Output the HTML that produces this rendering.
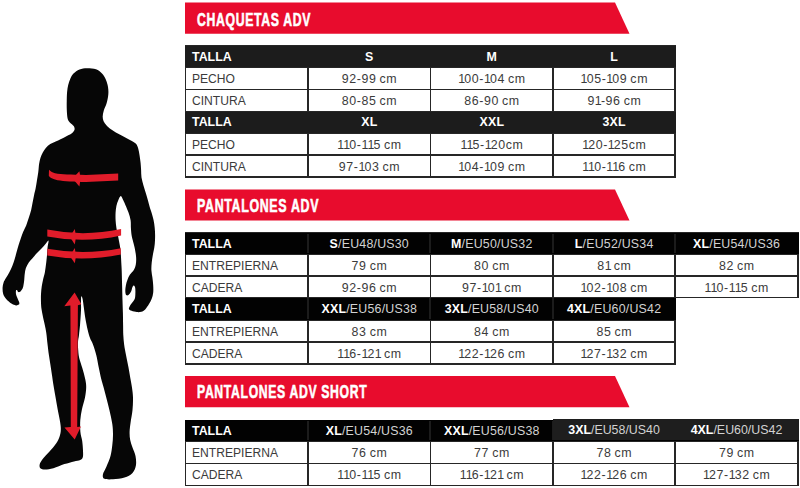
<!DOCTYPE html>
<html><head><meta charset="utf-8"><style>
html,body{margin:0;padding:0;background:#fff;}
body{width:800px;height:488px;position:relative;overflow:hidden;font-family:"Liberation Sans",Arial,sans-serif;}
b{font-weight:bold;}
i{font-style:normal;letter-spacing:-0.85px;margin-left:-0.1px;}
</style></head><body>
<svg style="position:absolute;left:0;top:0" width="800" height="488"><polygon points="185,2.5 615,2.5 629.5,33.75 185,33.75" fill="#e80c2d"/></svg>
<div style="position:absolute;left:197.2px;top:2.5px;height:31.25px;display:flex;align-items:center;color:#fff;font-weight:bold;font-size:18.8px;transform:scaleX(0.652636);transform-origin:0 50%;white-space:nowrap;-webkit-text-stroke:0.6px #fff;letter-spacing:1.0px;padding-top:1.7px">CHAQUETAS ADV</div>
<svg style="position:absolute;left:0;top:0" width="800" height="488"><polygon points="185,189.5 615,189.5 629.5,220.6 185,220.6" fill="#e80c2d"/></svg>
<div style="position:absolute;left:197.2px;top:189.5px;height:31.099999999999994px;display:flex;align-items:center;color:#fff;font-weight:bold;font-size:18.8px;transform:scaleX(0.660652);transform-origin:0 50%;white-space:nowrap;-webkit-text-stroke:0.6px #fff;letter-spacing:1.0px;padding-top:1.1px">PANTALONES ADV</div>
<svg style="position:absolute;left:0;top:0" width="800" height="488"><polygon points="185,376 615,376 629.5,407.25 185,407.25" fill="#e80c2d"/></svg>
<div style="position:absolute;left:196.79999999999998px;top:376px;height:31.25px;display:flex;align-items:center;color:#fff;font-weight:bold;font-size:18.8px;transform:scaleX(0.650632);transform-origin:0 50%;white-space:nowrap;-webkit-text-stroke:0.6px #fff;letter-spacing:1.0px;padding-top:0.5px">PANTALONES ADV SHORT</div>
<div style="position:absolute;left:184.60px;top:45.00px;width:491.40px;height:132.60px;background:#262626;"></div>
<div style="position:absolute;left:184.60px;top:45.80px;width:491.40px;height:21.10px;background:#1c1c1c;"></div>
<div style="position:absolute;left:185.40px;top:46.10px;width:122.60px;height:21.10px;display:flex;align-items:center;justify-content:flex-start;padding-left:6.6px;box-sizing:border-box;color:#fff;font-size:12.4px;font-weight:bold;white-space:nowrap;letter-spacing:0px;word-spacing:0px"><span>TALLA</span></div>
<div style="position:absolute;left:308.00px;top:46.10px;width:122.50px;height:21.10px;display:flex;align-items:center;justify-content:center;padding-left:0.2px;box-sizing:border-box;color:#fff;font-size:12.4px;font-weight:normal;white-space:nowrap;letter-spacing:0.2px;word-spacing:0px"><span><b>S</b></span></div>
<div style="position:absolute;left:430.50px;top:46.10px;width:122.50px;height:21.10px;display:flex;align-items:center;justify-content:center;padding-left:0.2px;box-sizing:border-box;color:#fff;font-size:12.4px;font-weight:normal;white-space:nowrap;letter-spacing:0.2px;word-spacing:0px"><span><b>M</b></span></div>
<div style="position:absolute;left:553.00px;top:46.10px;width:122.20px;height:21.10px;display:flex;align-items:center;justify-content:center;padding-left:0.2px;box-sizing:border-box;color:#fff;font-size:12.4px;font-weight:normal;white-space:nowrap;letter-spacing:0.2px;word-spacing:0px"><span><b>L</b></span></div>
<div style="position:absolute;left:186.20px;top:67.70px;width:121.00px;height:21.00px;background:#fff;"></div>
<div style="position:absolute;left:185.40px;top:67.80px;width:122.60px;height:22.60px;display:flex;align-items:center;justify-content:flex-start;padding-left:6.6px;box-sizing:border-box;color:#3b3b3b;font-size:12.1px;font-weight:normal;white-space:nowrap;letter-spacing:0px;word-spacing:0px"><span>PECHO</span></div>
<div style="position:absolute;left:308.80px;top:67.70px;width:120.90px;height:21.00px;background:#fff;"></div>
<div style="position:absolute;left:308.00px;top:67.80px;width:122.50px;height:22.60px;display:flex;align-items:center;justify-content:center;padding-left:0.6px;box-sizing:border-box;color:#3b3b3b;font-size:12.4px;font-weight:normal;white-space:nowrap;letter-spacing:0.6px;word-spacing:-1.0px"><span>92-99 cm</span></div>
<div style="position:absolute;left:431.30px;top:67.70px;width:120.90px;height:21.00px;background:#fff;"></div>
<div style="position:absolute;left:430.50px;top:67.80px;width:122.50px;height:22.60px;display:flex;align-items:center;justify-content:center;padding-left:0.6px;box-sizing:border-box;color:#3b3b3b;font-size:12.4px;font-weight:normal;white-space:nowrap;letter-spacing:0.6px;word-spacing:-1.0px"><span><i>1</i>00-<i>1</i>04 cm</span></div>
<div style="position:absolute;left:553.80px;top:67.70px;width:120.60px;height:21.00px;background:#fff;"></div>
<div style="position:absolute;left:553.00px;top:67.80px;width:122.20px;height:22.60px;display:flex;align-items:center;justify-content:center;padding-left:0.6px;box-sizing:border-box;color:#3b3b3b;font-size:12.4px;font-weight:normal;white-space:nowrap;letter-spacing:0.6px;word-spacing:-1.0px"><span><i>1</i>05-<i>1</i>09 cm</span></div>
<div style="position:absolute;left:186.20px;top:90.30px;width:121.00px;height:20.50px;background:#fff;"></div>
<div style="position:absolute;left:185.40px;top:90.40px;width:122.60px;height:22.10px;display:flex;align-items:center;justify-content:flex-start;padding-left:6.6px;box-sizing:border-box;color:#3b3b3b;font-size:12.1px;font-weight:normal;white-space:nowrap;letter-spacing:0px;word-spacing:0px"><span>CINTURA</span></div>
<div style="position:absolute;left:308.80px;top:90.30px;width:120.90px;height:20.50px;background:#fff;"></div>
<div style="position:absolute;left:308.00px;top:90.40px;width:122.50px;height:22.10px;display:flex;align-items:center;justify-content:center;padding-left:0.6px;box-sizing:border-box;color:#3b3b3b;font-size:12.4px;font-weight:normal;white-space:nowrap;letter-spacing:0.6px;word-spacing:-1.0px"><span>80-85 cm</span></div>
<div style="position:absolute;left:431.30px;top:90.30px;width:120.90px;height:20.50px;background:#fff;"></div>
<div style="position:absolute;left:430.50px;top:90.40px;width:122.50px;height:22.10px;display:flex;align-items:center;justify-content:center;padding-left:0.6px;box-sizing:border-box;color:#3b3b3b;font-size:12.4px;font-weight:normal;white-space:nowrap;letter-spacing:0.6px;word-spacing:-1.0px"><span>86-90 cm</span></div>
<div style="position:absolute;left:553.80px;top:90.30px;width:120.60px;height:20.50px;background:#fff;"></div>
<div style="position:absolute;left:553.00px;top:90.40px;width:122.20px;height:22.10px;display:flex;align-items:center;justify-content:center;padding-left:0.6px;box-sizing:border-box;color:#3b3b3b;font-size:12.4px;font-weight:normal;white-space:nowrap;letter-spacing:0.6px;word-spacing:-1.0px"><span>9<i>1</i>-96 cm</span></div>
<div style="position:absolute;left:184.60px;top:111.60px;width:491.40px;height:21.10px;background:#1c1c1c;"></div>
<div style="position:absolute;left:185.40px;top:111.90px;width:122.60px;height:21.10px;display:flex;align-items:center;justify-content:flex-start;padding-left:6.6px;box-sizing:border-box;color:#fff;font-size:12.4px;font-weight:bold;white-space:nowrap;letter-spacing:0px;word-spacing:0px"><span>TALLA</span></div>
<div style="position:absolute;left:308.00px;top:111.90px;width:122.50px;height:21.10px;display:flex;align-items:center;justify-content:center;padding-left:0.2px;box-sizing:border-box;color:#fff;font-size:12.4px;font-weight:normal;white-space:nowrap;letter-spacing:0.2px;word-spacing:0px"><span><b>XL</b></span></div>
<div style="position:absolute;left:430.50px;top:111.90px;width:122.50px;height:21.10px;display:flex;align-items:center;justify-content:center;padding-left:0.2px;box-sizing:border-box;color:#fff;font-size:12.4px;font-weight:normal;white-space:nowrap;letter-spacing:0.2px;word-spacing:0px"><span><b>XXL</b></span></div>
<div style="position:absolute;left:553.00px;top:111.90px;width:122.20px;height:21.10px;display:flex;align-items:center;justify-content:center;padding-left:0.2px;box-sizing:border-box;color:#fff;font-size:12.4px;font-weight:normal;white-space:nowrap;letter-spacing:0.2px;word-spacing:0px"><span><b>3XL</b></span></div>
<div style="position:absolute;left:186.20px;top:133.50px;width:121.00px;height:20.60px;background:#fff;"></div>
<div style="position:absolute;left:185.40px;top:133.60px;width:122.60px;height:22.20px;display:flex;align-items:center;justify-content:flex-start;padding-left:6.6px;box-sizing:border-box;color:#3b3b3b;font-size:12.1px;font-weight:normal;white-space:nowrap;letter-spacing:0px;word-spacing:0px"><span>PECHO</span></div>
<div style="position:absolute;left:308.80px;top:133.50px;width:120.90px;height:20.60px;background:#fff;"></div>
<div style="position:absolute;left:308.00px;top:133.60px;width:122.50px;height:22.20px;display:flex;align-items:center;justify-content:center;padding-left:0.6px;box-sizing:border-box;color:#3b3b3b;font-size:12.4px;font-weight:normal;white-space:nowrap;letter-spacing:0.6px;word-spacing:-1.0px"><span><i>1</i><i>1</i>0-<i>1</i><i>1</i>5 cm</span></div>
<div style="position:absolute;left:431.30px;top:133.50px;width:120.90px;height:20.60px;background:#fff;"></div>
<div style="position:absolute;left:430.50px;top:133.60px;width:122.50px;height:22.20px;display:flex;align-items:center;justify-content:center;padding-left:0.6px;box-sizing:border-box;color:#3b3b3b;font-size:12.4px;font-weight:normal;white-space:nowrap;letter-spacing:0.6px;word-spacing:-1.0px"><span><i>1</i><i>1</i>5-<i>1</i>20cm</span></div>
<div style="position:absolute;left:553.80px;top:133.50px;width:120.60px;height:20.60px;background:#fff;"></div>
<div style="position:absolute;left:553.00px;top:133.60px;width:122.20px;height:22.20px;display:flex;align-items:center;justify-content:center;padding-left:0.6px;box-sizing:border-box;color:#3b3b3b;font-size:12.4px;font-weight:normal;white-space:nowrap;letter-spacing:0.6px;word-spacing:-1.0px"><span><i>1</i>20-<i>1</i>25cm</span></div>
<div style="position:absolute;left:186.20px;top:155.70px;width:121.00px;height:20.30px;background:#fff;"></div>
<div style="position:absolute;left:185.40px;top:155.80px;width:122.60px;height:21.90px;display:flex;align-items:center;justify-content:flex-start;padding-left:6.6px;box-sizing:border-box;color:#3b3b3b;font-size:12.1px;font-weight:normal;white-space:nowrap;letter-spacing:0px;word-spacing:0px"><span>CINTURA</span></div>
<div style="position:absolute;left:308.80px;top:155.70px;width:120.90px;height:20.30px;background:#fff;"></div>
<div style="position:absolute;left:308.00px;top:155.80px;width:122.50px;height:21.90px;display:flex;align-items:center;justify-content:center;padding-left:0.6px;box-sizing:border-box;color:#3b3b3b;font-size:12.4px;font-weight:normal;white-space:nowrap;letter-spacing:0.6px;word-spacing:-1.0px"><span>97-<i>1</i>03 cm</span></div>
<div style="position:absolute;left:431.30px;top:155.70px;width:120.90px;height:20.30px;background:#fff;"></div>
<div style="position:absolute;left:430.50px;top:155.80px;width:122.50px;height:21.90px;display:flex;align-items:center;justify-content:center;padding-left:0.6px;box-sizing:border-box;color:#3b3b3b;font-size:12.4px;font-weight:normal;white-space:nowrap;letter-spacing:0.6px;word-spacing:-1.0px"><span><i>1</i>04-<i>1</i>09 cm</span></div>
<div style="position:absolute;left:553.80px;top:155.70px;width:120.60px;height:20.30px;background:#fff;"></div>
<div style="position:absolute;left:553.00px;top:155.80px;width:122.20px;height:21.90px;display:flex;align-items:center;justify-content:center;padding-left:0.6px;box-sizing:border-box;color:#3b3b3b;font-size:12.4px;font-weight:normal;white-space:nowrap;letter-spacing:0.6px;word-spacing:-1.0px"><span><i>1</i><i>1</i>0-<i>1</i><i>1</i>6 cm</span></div>
<div style="position:absolute;left:184.60px;top:232.10px;width:614.10px;height:66.30px;background:#262626;"></div>
<div style="position:absolute;left:184.60px;top:232.90px;width:614.10px;height:21.20px;background:#020202;"></div>
<div style="position:absolute;left:307.00px;top:233.70px;width:2.00px;height:19.60px;background:#1c1c1c;"></div>
<div style="position:absolute;left:429.40px;top:233.70px;width:2.00px;height:19.60px;background:#1c1c1c;"></div>
<div style="position:absolute;left:552.00px;top:233.70px;width:2.00px;height:19.60px;background:#1c1c1c;"></div>
<div style="position:absolute;left:674.10px;top:233.70px;width:2.00px;height:19.60px;background:#1c1c1c;"></div>
<div style="position:absolute;left:185.40px;top:233.20px;width:122.60px;height:21.20px;display:flex;align-items:center;justify-content:flex-start;padding-left:6.6px;box-sizing:border-box;color:#fff;font-size:12.4px;font-weight:bold;white-space:nowrap;letter-spacing:0px;word-spacing:0px"><span>TALLA</span></div>
<div style="position:absolute;left:308.00px;top:233.20px;width:122.40px;height:21.20px;display:flex;align-items:center;justify-content:center;padding-left:0.2px;box-sizing:border-box;color:#fff;font-size:12.4px;font-weight:normal;white-space:nowrap;letter-spacing:0.2px;word-spacing:0px"><span><b>S</b><span style="color:#d2d2d2">/EU48/US30</span></span></div>
<div style="position:absolute;left:430.40px;top:233.20px;width:122.60px;height:21.20px;display:flex;align-items:center;justify-content:center;padding-left:0.2px;box-sizing:border-box;color:#fff;font-size:12.4px;font-weight:normal;white-space:nowrap;letter-spacing:0.2px;word-spacing:0px"><span><b>M</b><span style="color:#d2d2d2">/EU50/US32</span></span></div>
<div style="position:absolute;left:553.00px;top:233.20px;width:122.10px;height:21.20px;display:flex;align-items:center;justify-content:center;padding-left:0.2px;box-sizing:border-box;color:#fff;font-size:12.4px;font-weight:normal;white-space:nowrap;letter-spacing:0.2px;word-spacing:0px"><span><b>L</b><span style="color:#d2d2d2">/EU52/US34</span></span></div>
<div style="position:absolute;left:675.10px;top:233.20px;width:122.80px;height:21.20px;display:flex;align-items:center;justify-content:center;padding-left:0.2px;box-sizing:border-box;color:#fff;font-size:12.4px;font-weight:normal;white-space:nowrap;letter-spacing:0.2px;word-spacing:0px"><span><b>XL</b><span style="color:#d2d2d2">/EU54/US36</span></span></div>
<div style="position:absolute;left:186.20px;top:254.90px;width:121.00px;height:20.10px;background:#fff;"></div>
<div style="position:absolute;left:185.40px;top:255.00px;width:122.60px;height:21.70px;display:flex;align-items:center;justify-content:flex-start;padding-left:6.6px;box-sizing:border-box;color:#3b3b3b;font-size:12.1px;font-weight:normal;white-space:nowrap;letter-spacing:0px;word-spacing:0px"><span>ENTREPIERNA</span></div>
<div style="position:absolute;left:308.80px;top:254.90px;width:120.80px;height:20.10px;background:#fff;"></div>
<div style="position:absolute;left:308.00px;top:255.00px;width:122.40px;height:21.70px;display:flex;align-items:center;justify-content:center;padding-left:0.6px;box-sizing:border-box;color:#3b3b3b;font-size:12.4px;font-weight:normal;white-space:nowrap;letter-spacing:0.6px;word-spacing:-1.0px"><span>79 cm</span></div>
<div style="position:absolute;left:431.20px;top:254.90px;width:121.00px;height:20.10px;background:#fff;"></div>
<div style="position:absolute;left:430.40px;top:255.00px;width:122.60px;height:21.70px;display:flex;align-items:center;justify-content:center;padding-left:0.6px;box-sizing:border-box;color:#3b3b3b;font-size:12.4px;font-weight:normal;white-space:nowrap;letter-spacing:0.6px;word-spacing:-1.0px"><span>80 cm</span></div>
<div style="position:absolute;left:553.80px;top:254.90px;width:120.50px;height:20.10px;background:#fff;"></div>
<div style="position:absolute;left:553.00px;top:255.00px;width:122.10px;height:21.70px;display:flex;align-items:center;justify-content:center;padding-left:0.6px;box-sizing:border-box;color:#3b3b3b;font-size:12.4px;font-weight:normal;white-space:nowrap;letter-spacing:0.6px;word-spacing:-1.0px"><span>8<i>1</i> cm</span></div>
<div style="position:absolute;left:675.90px;top:254.90px;width:121.20px;height:20.10px;background:#fff;"></div>
<div style="position:absolute;left:675.10px;top:255.00px;width:122.80px;height:21.70px;display:flex;align-items:center;justify-content:center;padding-left:0.6px;box-sizing:border-box;color:#3b3b3b;font-size:12.4px;font-weight:normal;white-space:nowrap;letter-spacing:0.6px;word-spacing:-1.0px"><span>82 cm</span></div>
<div style="position:absolute;left:186.20px;top:276.60px;width:121.00px;height:20.20px;background:#fff;"></div>
<div style="position:absolute;left:185.40px;top:276.70px;width:122.60px;height:21.80px;display:flex;align-items:center;justify-content:flex-start;padding-left:6.6px;box-sizing:border-box;color:#3b3b3b;font-size:12.1px;font-weight:normal;white-space:nowrap;letter-spacing:0px;word-spacing:0px"><span>CADERA</span></div>
<div style="position:absolute;left:308.80px;top:276.60px;width:120.80px;height:20.20px;background:#fff;"></div>
<div style="position:absolute;left:308.00px;top:276.70px;width:122.40px;height:21.80px;display:flex;align-items:center;justify-content:center;padding-left:0.6px;box-sizing:border-box;color:#3b3b3b;font-size:12.4px;font-weight:normal;white-space:nowrap;letter-spacing:0.6px;word-spacing:-1.0px"><span>92-96 cm</span></div>
<div style="position:absolute;left:431.20px;top:276.60px;width:121.00px;height:20.20px;background:#fff;"></div>
<div style="position:absolute;left:430.40px;top:276.70px;width:122.60px;height:21.80px;display:flex;align-items:center;justify-content:center;padding-left:0.6px;box-sizing:border-box;color:#3b3b3b;font-size:12.4px;font-weight:normal;white-space:nowrap;letter-spacing:0.6px;word-spacing:-1.0px"><span>97-<i>1</i>0<i>1</i> cm</span></div>
<div style="position:absolute;left:553.80px;top:276.60px;width:120.50px;height:20.20px;background:#fff;"></div>
<div style="position:absolute;left:553.00px;top:276.70px;width:122.10px;height:21.80px;display:flex;align-items:center;justify-content:center;padding-left:0.6px;box-sizing:border-box;color:#3b3b3b;font-size:12.4px;font-weight:normal;white-space:nowrap;letter-spacing:0.6px;word-spacing:-1.0px"><span><i>1</i>02-<i>1</i>08 cm</span></div>
<div style="position:absolute;left:675.90px;top:276.60px;width:121.20px;height:20.20px;background:#fff;"></div>
<div style="position:absolute;left:675.10px;top:276.70px;width:122.80px;height:21.80px;display:flex;align-items:center;justify-content:center;padding-left:0.6px;box-sizing:border-box;color:#3b3b3b;font-size:12.4px;font-weight:normal;white-space:nowrap;letter-spacing:0.6px;word-spacing:-1.0px"><span><i>1</i><i>1</i>0-<i>1</i><i>1</i>5 cm</span></div>
<div style="position:absolute;left:184.60px;top:296.80px;width:491.30px;height:68.10px;background:#262626;"></div>
<div style="position:absolute;left:184.60px;top:297.60px;width:491.30px;height:22.30px;background:#020202;"></div>
<div style="position:absolute;left:307.00px;top:298.40px;width:2.00px;height:20.70px;background:#1c1c1c;"></div>
<div style="position:absolute;left:429.40px;top:298.40px;width:2.00px;height:20.70px;background:#1c1c1c;"></div>
<div style="position:absolute;left:552.00px;top:298.40px;width:2.00px;height:20.70px;background:#1c1c1c;"></div>
<div style="position:absolute;left:185.40px;top:297.90px;width:122.60px;height:22.30px;display:flex;align-items:center;justify-content:flex-start;padding-left:6.6px;box-sizing:border-box;color:#fff;font-size:12.4px;font-weight:bold;white-space:nowrap;letter-spacing:0px;word-spacing:0px"><span>TALLA</span></div>
<div style="position:absolute;left:308.00px;top:297.90px;width:122.40px;height:22.30px;display:flex;align-items:center;justify-content:center;padding-left:0.2px;box-sizing:border-box;color:#fff;font-size:12.4px;font-weight:normal;white-space:nowrap;letter-spacing:0.2px;word-spacing:0px"><span><b>XXL</b><span style="color:#d2d2d2">/EU56/US38</span></span></div>
<div style="position:absolute;left:430.40px;top:297.90px;width:122.60px;height:22.30px;display:flex;align-items:center;justify-content:center;padding-left:0.2px;box-sizing:border-box;color:#fff;font-size:12.4px;font-weight:normal;white-space:nowrap;letter-spacing:0.2px;word-spacing:0px"><span><b>3XL</b><span style="color:#d2d2d2">/EU58/US40</span></span></div>
<div style="position:absolute;left:553.00px;top:297.90px;width:122.10px;height:22.30px;display:flex;align-items:center;justify-content:center;padding-left:0.2px;box-sizing:border-box;color:#fff;font-size:12.4px;font-weight:normal;white-space:nowrap;letter-spacing:0.2px;word-spacing:0px"><span><b>4XL</b><span style="color:#d2d2d2">/EU60/US42</span></span></div>
<div style="position:absolute;left:186.20px;top:320.70px;width:121.00px;height:20.50px;background:#fff;"></div>
<div style="position:absolute;left:185.40px;top:320.80px;width:122.60px;height:22.10px;display:flex;align-items:center;justify-content:flex-start;padding-left:6.6px;box-sizing:border-box;color:#3b3b3b;font-size:12.1px;font-weight:normal;white-space:nowrap;letter-spacing:0px;word-spacing:0px"><span>ENTREPIERNA</span></div>
<div style="position:absolute;left:308.80px;top:320.70px;width:120.80px;height:20.50px;background:#fff;"></div>
<div style="position:absolute;left:308.00px;top:320.80px;width:122.40px;height:22.10px;display:flex;align-items:center;justify-content:center;padding-left:0.6px;box-sizing:border-box;color:#3b3b3b;font-size:12.4px;font-weight:normal;white-space:nowrap;letter-spacing:0.6px;word-spacing:-1.0px"><span>83 cm</span></div>
<div style="position:absolute;left:431.20px;top:320.70px;width:121.00px;height:20.50px;background:#fff;"></div>
<div style="position:absolute;left:430.40px;top:320.80px;width:122.60px;height:22.10px;display:flex;align-items:center;justify-content:center;padding-left:0.6px;box-sizing:border-box;color:#3b3b3b;font-size:12.4px;font-weight:normal;white-space:nowrap;letter-spacing:0.6px;word-spacing:-1.0px"><span>84 cm</span></div>
<div style="position:absolute;left:553.80px;top:320.70px;width:120.50px;height:20.50px;background:#fff;"></div>
<div style="position:absolute;left:553.00px;top:320.80px;width:122.10px;height:22.10px;display:flex;align-items:center;justify-content:center;padding-left:0.6px;box-sizing:border-box;color:#3b3b3b;font-size:12.4px;font-weight:normal;white-space:nowrap;letter-spacing:0.6px;word-spacing:-1.0px"><span>85 cm</span></div>
<div style="position:absolute;left:186.20px;top:342.80px;width:121.00px;height:20.50px;background:#fff;"></div>
<div style="position:absolute;left:185.40px;top:342.90px;width:122.60px;height:22.10px;display:flex;align-items:center;justify-content:flex-start;padding-left:6.6px;box-sizing:border-box;color:#3b3b3b;font-size:12.1px;font-weight:normal;white-space:nowrap;letter-spacing:0px;word-spacing:0px"><span>CADERA</span></div>
<div style="position:absolute;left:308.80px;top:342.80px;width:120.80px;height:20.50px;background:#fff;"></div>
<div style="position:absolute;left:308.00px;top:342.90px;width:122.40px;height:22.10px;display:flex;align-items:center;justify-content:center;padding-left:0.6px;box-sizing:border-box;color:#3b3b3b;font-size:12.4px;font-weight:normal;white-space:nowrap;letter-spacing:0.6px;word-spacing:-1.0px"><span><i>1</i><i>1</i>6-<i>1</i>2<i>1</i> cm</span></div>
<div style="position:absolute;left:431.20px;top:342.80px;width:121.00px;height:20.50px;background:#fff;"></div>
<div style="position:absolute;left:430.40px;top:342.90px;width:122.60px;height:22.10px;display:flex;align-items:center;justify-content:center;padding-left:0.6px;box-sizing:border-box;color:#3b3b3b;font-size:12.4px;font-weight:normal;white-space:nowrap;letter-spacing:0.6px;word-spacing:-1.0px"><span><i>1</i>22-<i>1</i>26 cm</span></div>
<div style="position:absolute;left:553.80px;top:342.80px;width:120.50px;height:20.50px;background:#fff;"></div>
<div style="position:absolute;left:553.00px;top:342.90px;width:122.10px;height:22.10px;display:flex;align-items:center;justify-content:center;padding-left:0.6px;box-sizing:border-box;color:#3b3b3b;font-size:12.4px;font-weight:normal;white-space:nowrap;letter-spacing:0.6px;word-spacing:-1.0px"><span><i>1</i>27-<i>1</i>32 cm</span></div>
<div style="position:absolute;left:184.60px;top:419.50px;width:614.10px;height:66.70px;background:#262626;"></div>
<div style="position:absolute;left:184.60px;top:420.30px;width:614.10px;height:20.90px;background:#020202;"></div>
<div style="position:absolute;left:307.00px;top:421.10px;width:2.00px;height:19.30px;background:#1c1c1c;"></div>
<div style="position:absolute;left:429.40px;top:421.10px;width:2.00px;height:19.30px;background:#1c1c1c;"></div>
<div style="position:absolute;left:552.00px;top:421.10px;width:2.00px;height:19.30px;background:#1c1c1c;"></div>
<div style="position:absolute;left:674.10px;top:421.10px;width:2.00px;height:19.30px;background:#1c1c1c;"></div>
<div style="position:absolute;left:185.40px;top:420.60px;width:122.60px;height:20.90px;display:flex;align-items:center;justify-content:flex-start;padding-left:6.6px;box-sizing:border-box;color:#fff;font-size:12.4px;font-weight:bold;white-space:nowrap;letter-spacing:0px;word-spacing:0px"><span>TALLA</span></div>
<div style="position:absolute;left:308.00px;top:420.60px;width:122.40px;height:20.90px;display:flex;align-items:center;justify-content:center;padding-left:0.2px;box-sizing:border-box;color:#fff;font-size:12.4px;font-weight:normal;white-space:nowrap;letter-spacing:0.2px;word-spacing:0px"><span><b>XL</b><span style="color:#d2d2d2">/EU54/US36</span></span></div>
<div style="position:absolute;left:430.40px;top:420.60px;width:122.60px;height:20.90px;display:flex;align-items:center;justify-content:center;padding-left:0.2px;box-sizing:border-box;color:#fff;font-size:12.4px;font-weight:normal;white-space:nowrap;letter-spacing:0.2px;word-spacing:0px"><span><b>XXL</b><span style="color:#d2d2d2">/EU56/US38</span></span></div>
<div style="position:absolute;left:553.00px;top:420.60px;width:122.10px;height:20.90px;display:flex;align-items:center;justify-content:center;padding-left:0.2px;box-sizing:border-box;color:#fff;font-size:12.4px;font-weight:normal;white-space:nowrap;letter-spacing:0.2px;word-spacing:0px"><span><b>3XL</b><span style="color:#d2d2d2">/EU58/US40</span></span></div>
<div style="position:absolute;left:675.10px;top:420.60px;width:122.80px;height:20.90px;display:flex;align-items:center;justify-content:center;padding-left:0.2px;box-sizing:border-box;color:#fff;font-size:12.4px;font-weight:normal;white-space:nowrap;letter-spacing:0.2px;word-spacing:0px"><span><b>4XL</b><span style="color:#d2d2d2">/EU60/US42</span></span></div>
<div style="position:absolute;left:186.20px;top:442.00px;width:121.00px;height:20.80px;background:#fff;"></div>
<div style="position:absolute;left:185.40px;top:442.10px;width:122.60px;height:22.40px;display:flex;align-items:center;justify-content:flex-start;padding-left:6.6px;box-sizing:border-box;color:#3b3b3b;font-size:12.1px;font-weight:normal;white-space:nowrap;letter-spacing:0px;word-spacing:0px"><span>ENTREPIERNA</span></div>
<div style="position:absolute;left:308.80px;top:442.00px;width:120.80px;height:20.80px;background:#fff;"></div>
<div style="position:absolute;left:308.00px;top:442.10px;width:122.40px;height:22.40px;display:flex;align-items:center;justify-content:center;padding-left:0.6px;box-sizing:border-box;color:#3b3b3b;font-size:12.4px;font-weight:normal;white-space:nowrap;letter-spacing:0.6px;word-spacing:-1.0px"><span>76 cm</span></div>
<div style="position:absolute;left:431.20px;top:442.00px;width:121.00px;height:20.80px;background:#fff;"></div>
<div style="position:absolute;left:430.40px;top:442.10px;width:122.60px;height:22.40px;display:flex;align-items:center;justify-content:center;padding-left:0.6px;box-sizing:border-box;color:#3b3b3b;font-size:12.4px;font-weight:normal;white-space:nowrap;letter-spacing:0.6px;word-spacing:-1.0px"><span>77 cm</span></div>
<div style="position:absolute;left:553.80px;top:442.00px;width:120.50px;height:20.80px;background:#fff;"></div>
<div style="position:absolute;left:553.00px;top:442.10px;width:122.10px;height:22.40px;display:flex;align-items:center;justify-content:center;padding-left:0.6px;box-sizing:border-box;color:#3b3b3b;font-size:12.4px;font-weight:normal;white-space:nowrap;letter-spacing:0.6px;word-spacing:-1.0px"><span>78 cm</span></div>
<div style="position:absolute;left:675.90px;top:442.00px;width:121.20px;height:20.80px;background:#fff;"></div>
<div style="position:absolute;left:675.10px;top:442.10px;width:122.80px;height:22.40px;display:flex;align-items:center;justify-content:center;padding-left:0.6px;box-sizing:border-box;color:#3b3b3b;font-size:12.4px;font-weight:normal;white-space:nowrap;letter-spacing:0.6px;word-spacing:-1.0px"><span>79 cm</span></div>
<div style="position:absolute;left:186.20px;top:464.40px;width:121.00px;height:20.20px;background:#fff;"></div>
<div style="position:absolute;left:185.40px;top:464.50px;width:122.60px;height:21.80px;display:flex;align-items:center;justify-content:flex-start;padding-left:6.6px;box-sizing:border-box;color:#3b3b3b;font-size:12.1px;font-weight:normal;white-space:nowrap;letter-spacing:0px;word-spacing:0px"><span>CADERA</span></div>
<div style="position:absolute;left:308.80px;top:464.40px;width:120.80px;height:20.20px;background:#fff;"></div>
<div style="position:absolute;left:308.00px;top:464.50px;width:122.40px;height:21.80px;display:flex;align-items:center;justify-content:center;padding-left:0.6px;box-sizing:border-box;color:#3b3b3b;font-size:12.4px;font-weight:normal;white-space:nowrap;letter-spacing:0.6px;word-spacing:-1.0px"><span><i>1</i><i>1</i>0-<i>1</i><i>1</i>5 cm</span></div>
<div style="position:absolute;left:431.20px;top:464.40px;width:121.00px;height:20.20px;background:#fff;"></div>
<div style="position:absolute;left:430.40px;top:464.50px;width:122.60px;height:21.80px;display:flex;align-items:center;justify-content:center;padding-left:0.6px;box-sizing:border-box;color:#3b3b3b;font-size:12.4px;font-weight:normal;white-space:nowrap;letter-spacing:0.6px;word-spacing:-1.0px"><span><i>1</i><i>1</i>6-<i>1</i>2<i>1</i> cm</span></div>
<div style="position:absolute;left:553.80px;top:464.40px;width:120.50px;height:20.20px;background:#fff;"></div>
<div style="position:absolute;left:553.00px;top:464.50px;width:122.10px;height:21.80px;display:flex;align-items:center;justify-content:center;padding-left:0.6px;box-sizing:border-box;color:#3b3b3b;font-size:12.4px;font-weight:normal;white-space:nowrap;letter-spacing:0.6px;word-spacing:-1.0px"><span><i>1</i>22-<i>1</i>26 cm</span></div>
<div style="position:absolute;left:675.90px;top:464.40px;width:121.20px;height:20.20px;background:#fff;"></div>
<div style="position:absolute;left:675.10px;top:464.50px;width:122.80px;height:21.80px;display:flex;align-items:center;justify-content:center;padding-left:0.6px;box-sizing:border-box;color:#3b3b3b;font-size:12.4px;font-weight:normal;white-space:nowrap;letter-spacing:0.6px;word-spacing:-1.0px"><span><i>1</i>27-<i>1</i>32 cm</span></div>
<div style="position:absolute;left:552.60px;top:419.00px;width:246.10px;height:21.40px;background:#1e1e1e;"></div>
<div style="position:absolute;left:553.00px;top:420.00px;width:122.10px;height:20.90px;display:flex;align-items:center;justify-content:center;padding-left:0px;box-sizing:border-box;color:#fff;font-size:12.4px;font-weight:normal;white-space:nowrap;letter-spacing:0px;word-spacing:0px"><span><b>3XL</b><span style="color:#d2d2d2">/EU58/US40</span></span></div>
<div style="position:absolute;left:675.10px;top:420.00px;width:122.80px;height:20.90px;display:flex;align-items:center;justify-content:center;padding-left:0px;box-sizing:border-box;color:#fff;font-size:12.4px;font-weight:normal;white-space:nowrap;letter-spacing:0px;word-spacing:0px"><span><b>4XL</b><span style="color:#d2d2d2">/EU60/US42</span></span></div>
<svg style="position:absolute;left:0;top:0" width="180" height="488" viewBox="0 0 180 488">
<path d="M87.00,68.20C89.75,68.18 93.50,68.42 96.00,69.30C98.50,70.18 100.37,71.80 102.00,73.50C103.63,75.20 104.80,77.25 105.80,79.50C106.80,81.75 107.58,84.50 108.00,87.00C108.42,89.50 108.53,91.78 108.30,94.50C108.07,97.22 107.35,100.63 106.60,103.30C105.85,105.97 104.45,108.30 103.80,110.50C103.15,112.70 102.73,114.72 102.70,116.50C102.67,118.28 102.98,119.75 103.60,121.20C104.22,122.65 105.25,123.92 106.40,125.20C107.55,126.48 108.60,127.50 110.50,128.90C112.40,130.30 115.33,132.15 117.80,133.60C120.27,135.05 123.03,136.40 125.30,137.60C127.57,138.80 129.62,139.77 131.40,140.80C133.18,141.83 134.87,142.52 136.00,143.80C137.13,145.08 137.62,146.63 138.20,148.50C138.78,150.37 139.10,152.58 139.50,155.00C139.90,157.42 140.33,160.50 140.60,163.00C140.87,165.50 140.95,167.57 141.10,170.00C141.25,172.43 141.12,175.07 141.50,177.60C141.88,180.13 142.70,182.67 143.40,185.20C144.10,187.73 144.95,190.28 145.70,192.80C146.45,195.32 147.23,197.93 147.90,200.30C148.57,202.67 149.10,204.95 149.70,207.00C150.30,209.05 150.85,210.40 151.50,212.60C152.15,214.80 153.07,217.67 153.60,220.20C154.13,222.73 154.45,225.28 154.70,227.80C154.95,230.32 155.07,232.93 155.10,235.30C155.13,237.67 155.03,239.95 154.90,242.00C154.77,244.05 154.65,245.40 154.30,247.60C153.95,249.80 153.23,252.67 152.80,255.20C152.37,257.73 151.93,260.28 151.70,262.80C151.47,265.32 151.28,267.83 151.40,270.30C151.52,272.77 152.10,275.12 152.40,277.60C152.70,280.08 153.07,282.67 153.20,285.20C153.33,287.73 153.45,290.53 153.20,292.80C152.95,295.07 152.40,296.92 151.70,298.80C151.00,300.68 150.08,302.33 149.00,304.10C147.92,305.87 146.47,308.13 145.20,309.40C143.93,310.67 142.78,311.25 141.40,311.70C140.02,312.15 138.53,312.25 136.90,312.10C135.27,311.95 132.93,311.32 131.60,310.80C130.27,310.28 129.10,309.98 128.90,309.00C128.70,308.02 129.70,306.15 130.40,304.90C131.10,303.65 132.33,302.63 133.10,301.50C133.87,300.37 134.62,299.82 135.00,298.10C135.38,296.38 135.40,293.05 135.40,291.20C135.40,289.35 135.30,287.97 135.00,287.00C134.70,286.03 134.05,285.32 133.60,285.40C133.15,285.48 132.70,286.53 132.30,287.50C131.90,288.47 131.83,289.95 131.20,291.20C130.57,292.45 129.33,294.37 128.50,295.00C127.67,295.63 126.73,295.63 126.20,295.00C125.67,294.37 125.35,292.83 125.30,291.20C125.25,289.57 125.55,287.08 125.90,285.20C126.25,283.32 126.72,281.67 127.40,279.90C128.08,278.13 128.93,276.25 130.00,274.60C131.07,272.95 132.83,271.68 133.80,270.00C134.77,268.32 135.42,266.67 135.80,264.50C136.18,262.33 136.30,259.82 136.10,257.00C135.90,254.18 135.17,250.43 134.60,247.60C134.03,244.77 133.20,242.05 132.70,240.00C132.20,237.95 131.90,237.33 131.60,235.30C131.30,233.27 131.07,230.32 130.90,227.80C130.73,225.28 131.00,222.73 130.60,220.20C130.20,217.67 129.33,215.05 128.50,212.60C127.67,210.15 126.45,207.52 125.60,205.50C124.75,203.48 124.20,202.08 123.40,200.50C122.60,198.92 121.67,196.00 120.80,196.00C119.93,196.00 118.93,198.83 118.20,200.50C117.47,202.17 116.83,203.98 116.40,206.00C115.97,208.02 115.73,210.23 115.60,212.60C115.47,214.97 115.47,217.67 115.60,220.20C115.73,222.73 116.02,225.28 116.40,227.80C116.78,230.32 117.47,233.10 117.90,235.30C118.33,237.50 118.62,238.95 119.00,241.00C119.38,243.05 119.88,245.23 120.20,247.60C120.52,249.97 120.72,252.67 120.90,255.20C121.08,257.73 121.17,260.28 121.30,262.80C121.43,265.32 121.57,266.57 121.70,270.30C121.83,274.03 121.97,280.20 122.10,285.20C122.23,290.20 122.37,295.75 122.50,300.30C122.63,304.85 122.80,308.38 122.90,312.50C123.00,316.62 123.03,321.25 123.10,325.00C123.17,328.75 123.12,331.67 123.30,335.00C123.48,338.33 123.75,341.67 124.20,345.00C124.65,348.33 125.28,351.25 126.00,355.00C126.72,358.75 127.78,363.67 128.50,367.50C129.22,371.33 129.73,374.75 130.30,378.00C130.87,381.25 131.45,383.75 131.90,387.00C132.35,390.25 132.90,393.67 133.00,397.50C133.10,401.33 132.90,405.83 132.50,410.00C132.10,414.17 131.08,418.83 130.60,422.50C130.12,426.17 129.67,429.08 129.60,432.00C129.53,434.92 129.72,437.40 130.20,440.00C130.68,442.60 131.62,444.93 132.50,447.60C133.38,450.27 134.93,453.02 135.50,456.00C136.07,458.98 136.40,462.67 135.90,465.50C135.40,468.33 134.40,470.98 132.50,473.00C130.60,475.02 127.75,476.55 124.50,477.60C121.25,478.65 116.33,479.10 113.00,479.30C109.67,479.50 106.18,479.60 104.50,478.80C102.82,478.00 102.57,476.55 102.90,474.50C103.23,472.45 105.23,469.58 106.50,466.50C107.77,463.42 109.53,459.58 110.50,456.00C111.47,452.42 111.88,448.50 112.30,445.00C112.72,441.50 113.00,438.50 113.00,435.00C113.00,431.50 112.90,428.17 112.30,424.00C111.70,419.83 110.41,414.42 109.40,410.00C108.39,405.58 107.23,401.33 106.25,397.50C105.27,393.67 104.33,390.08 103.50,387.00C102.67,383.92 102.04,382.25 101.25,379.00C100.46,375.75 99.58,371.50 98.75,367.50C97.92,363.50 97.24,358.92 96.25,355.00C95.26,351.08 93.81,346.75 92.80,344.00C91.79,341.25 91.05,340.83 90.20,338.50C89.35,336.17 88.52,333.42 87.70,330.00C86.88,326.58 85.93,321.67 85.30,318.00C84.67,314.33 84.35,311.17 83.90,308.00C83.45,304.83 83.02,300.95 82.60,299.00C82.18,297.05 81.67,296.13 81.40,296.30C81.13,296.47 81.07,297.68 81.00,300.00C80.93,302.32 81.17,305.98 81.00,310.20C80.83,314.42 80.33,321.17 80.00,325.30C79.67,329.43 79.33,332.22 79.00,335.00C78.67,337.78 78.13,339.50 78.00,342.00C77.87,344.50 78.00,347.33 78.20,350.00C78.40,352.67 78.52,355.00 79.20,358.00C79.88,361.00 81.30,364.50 82.30,368.00C83.30,371.50 84.55,375.83 85.20,379.00C85.85,382.17 86.23,383.92 86.20,387.00C86.17,390.08 85.70,393.83 85.00,397.50C84.30,401.17 82.78,405.25 82.00,409.00C81.22,412.75 80.57,416.17 80.30,420.00C80.03,423.83 80.08,428.50 80.40,432.00C80.72,435.50 81.77,437.93 82.20,441.00C82.63,444.07 82.90,447.68 83.00,450.40C83.10,453.12 83.27,455.70 82.80,457.30C82.33,458.90 81.67,459.32 80.20,460.00C78.73,460.68 76.63,460.72 74.00,461.40C71.37,462.08 67.83,462.95 64.40,464.10C60.97,465.25 56.62,467.38 53.40,468.30C50.18,469.22 47.28,469.60 45.10,469.60C42.92,469.60 41.18,469.22 40.30,468.30C39.42,467.38 39.33,465.72 39.80,464.10C40.27,462.48 41.52,460.65 43.10,458.60C44.68,456.55 47.13,454.32 49.30,451.80C51.47,449.28 54.38,446.05 56.10,443.50C57.82,440.95 58.82,438.75 59.60,436.50C60.38,434.25 60.70,432.33 60.80,430.00C60.90,427.67 60.70,425.83 60.20,422.50C59.70,419.17 58.57,414.17 57.80,410.00C57.03,405.83 56.30,401.50 55.60,397.50C54.90,393.50 54.23,389.92 53.60,386.00C52.97,382.08 52.35,377.67 51.80,374.00C51.25,370.33 50.78,367.17 50.30,364.00C49.82,360.83 49.37,358.33 48.90,355.00C48.43,351.67 47.93,347.67 47.50,344.00C47.07,340.33 46.75,336.17 46.30,333.00C45.85,329.83 45.38,327.83 44.80,325.00C44.22,322.17 43.35,318.67 42.80,316.00C42.25,313.33 41.80,311.20 41.50,309.00C41.20,306.80 41.08,305.30 41.00,302.80C40.92,300.30 40.87,296.80 41.00,294.00C41.13,291.20 41.43,288.50 41.80,286.00C42.17,283.50 42.70,281.20 43.20,279.00C43.70,276.80 44.28,275.63 44.80,272.80C45.32,269.97 45.93,264.97 46.30,262.00C46.67,259.03 46.78,257.50 47.00,255.00C47.22,252.50 47.35,249.42 47.60,247.00C47.85,244.58 48.85,241.00 48.50,240.50C48.15,240.00 46.67,242.67 45.50,244.00C44.33,245.33 43.00,246.92 41.50,248.50C40.00,250.08 38.00,251.88 36.50,253.50C35.00,255.12 33.78,256.72 32.50,258.20C31.22,259.68 29.90,260.77 28.80,262.40C27.70,264.03 26.58,266.02 25.90,268.00C25.22,269.98 24.98,272.25 24.70,274.30C24.42,276.35 24.38,278.60 24.20,280.30C24.02,282.00 23.87,283.12 23.60,284.50C23.33,285.88 23.12,287.45 22.60,288.60C22.08,289.75 21.22,290.82 20.50,291.40C19.78,291.98 18.87,292.28 18.30,292.10C17.73,291.92 17.48,290.55 17.10,290.30C16.72,290.05 16.17,289.90 16.00,290.60C15.83,291.30 15.77,293.02 16.10,294.50C16.43,295.98 17.47,298.12 18.00,299.50C18.53,300.88 19.17,301.95 19.30,302.80C19.43,303.65 19.37,304.17 18.80,304.60C18.23,305.03 17.13,305.57 15.90,305.40C14.67,305.23 12.98,304.62 11.40,303.60C9.82,302.58 7.77,300.90 6.40,299.30C5.03,297.70 3.83,295.95 3.20,294.00C2.57,292.05 2.53,289.52 2.60,287.60C2.67,285.68 3.07,284.05 3.60,282.50C4.13,280.95 4.88,279.92 5.80,278.30C6.72,276.68 8.02,274.85 9.10,272.80C10.18,270.75 11.37,268.30 12.30,266.00C13.23,263.70 13.98,261.33 14.70,259.00C15.42,256.67 15.95,254.33 16.60,252.00C17.25,249.67 17.93,247.17 18.60,245.00C19.27,242.83 19.85,241.17 20.60,239.00C21.35,236.83 22.17,234.27 23.10,232.00C24.03,229.73 25.25,227.77 26.20,225.40C27.15,223.03 27.98,220.33 28.80,217.80C29.62,215.27 30.47,212.73 31.10,210.20C31.73,207.67 32.10,205.13 32.60,202.60C33.10,200.07 33.60,197.33 34.10,195.00C34.60,192.67 35.12,191.10 35.60,188.60C36.08,186.10 36.55,182.77 37.00,180.00C37.45,177.23 37.95,174.67 38.30,172.00C38.65,169.33 38.73,166.37 39.10,164.00C39.47,161.63 39.88,159.72 40.50,157.80C41.12,155.88 41.92,154.15 42.80,152.50C43.68,150.85 44.55,149.30 45.80,147.90C47.05,146.50 48.65,145.15 50.30,144.10C51.95,143.05 54.00,142.40 55.70,141.60C57.40,140.80 58.78,140.15 60.50,139.30C62.22,138.45 64.22,137.42 66.00,136.50C67.78,135.58 69.83,134.78 71.20,133.80C72.57,132.82 73.67,131.67 74.20,130.60C74.73,129.53 74.73,128.40 74.40,127.40C74.07,126.40 73.00,125.47 72.20,124.60C71.40,123.73 70.37,123.22 69.60,122.20C68.83,121.18 68.07,120.53 67.60,118.50C67.13,116.47 66.94,112.92 66.80,110.00C66.66,107.08 66.70,104.00 66.75,101.00C66.80,98.00 66.86,94.67 67.10,92.00C67.34,89.33 67.68,87.17 68.20,85.00C68.72,82.83 69.32,80.90 70.20,79.00C71.08,77.10 71.95,75.20 73.50,73.60C75.05,72.00 77.25,70.30 79.50,69.40C81.75,68.50 84.25,68.22 87.00,68.20Z" fill="#060606"/>
<path d="M49,169.8 C50.5,171.5 52,172.3 55,173.2 C62,174.4 70,174.6 86,174.9 L118.2,173.5 L118.2,180.6 L86,181.9 C74,181.9 64,181.2 57.5,180.2 C52.5,179.2 50,177.8 48.8,175.8 Z" fill="#e11c2a"/>
<path d="M79.4,171.2 L72.6,178.6 L79.4,186.6 L80.6,178.6 Z" fill="#e11c2a"/>
<path d="M47.3,229.6Q84.19999999999999,237.04999999999998 121.1,229.1L121.1,235.5Q84.19999999999999,243.65000000000003 47.3,236.4Z" fill="#e11c2a"/>
<path d="M74.8,228.9 L69.8,236.8 L74.8,244.4 L76.0,236.8 Z" fill="#e11c2a"/>
<path d="M47.3,248.8Q84.05,255.5 120.8,248.2L120.8,254.6Q84.05,262.15000000000003 47.3,255.5Z" fill="#e11c2a"/>
<path d="M74.8,248.0 L69.8,256.0 L74.8,263.2 L76.0,256.0 Z" fill="#e11c2a"/>
<path d="M74.6,292.4 L81.4,304.2 L77.9,305.2 L77.7,340 L77.2,427 L81.0,426.6 L74.7,439.6 L64.5,427.6 L70.8,427 L70.6,340 L70.4,305.5 L64.3,306.2 Z" fill="#e11c2a"/>
</svg>
</body></html>
